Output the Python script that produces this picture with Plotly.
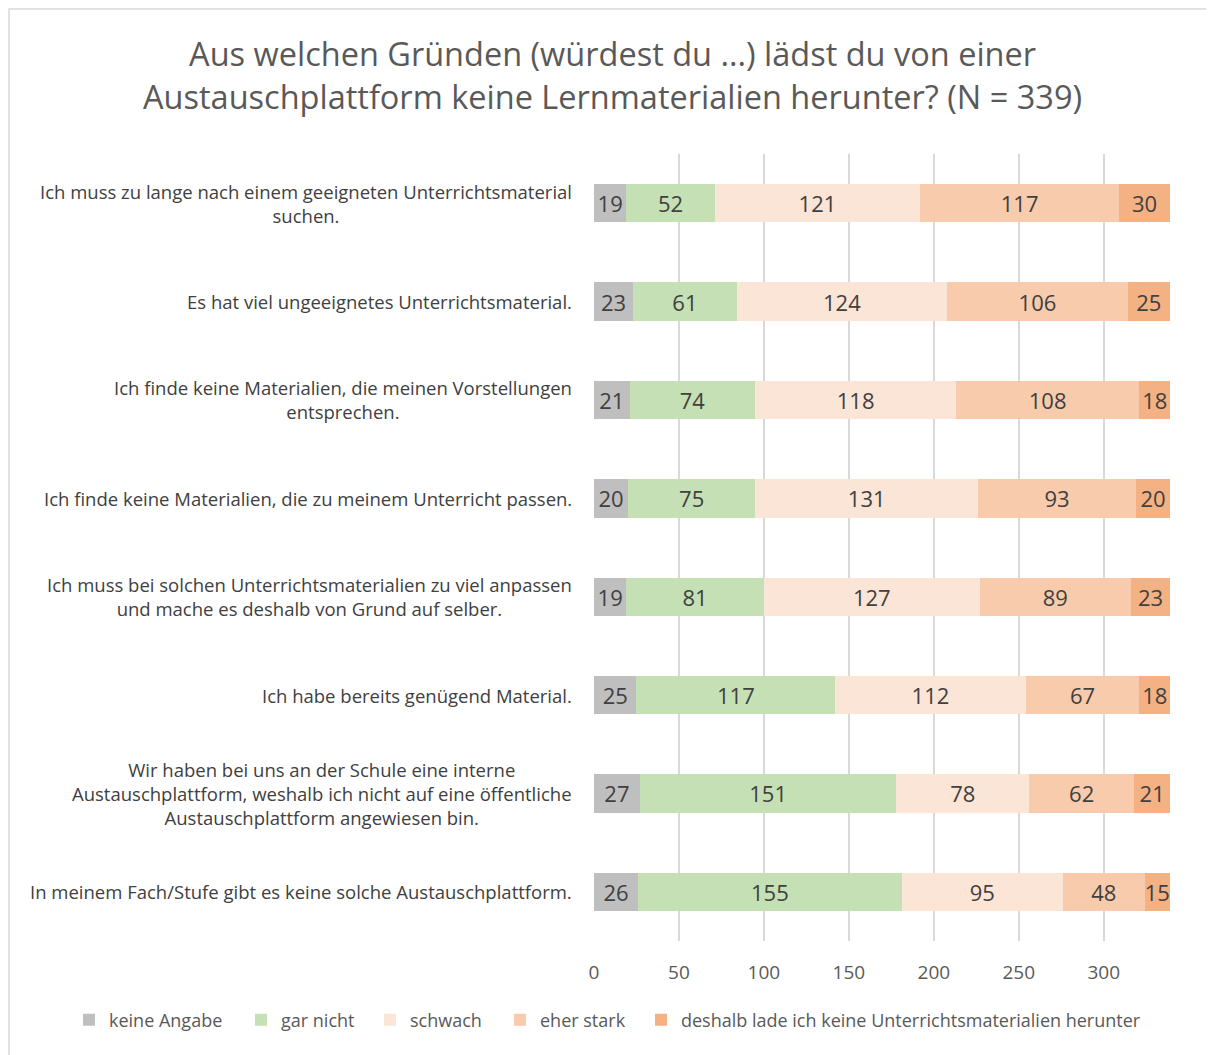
import plotly.graph_objects as go

categories = [
    "Ich muss zu lange nach einem geeigneten Unterrichtsmaterial<br>suchen.",
    "Es hat viel ungeeignetes Unterrichtsmaterial.",
    "Ich finde keine Materialien, die meinen Vorstellungen<br>entsprechen.",
    "Ich finde keine Materialien, die zu meinem Unterricht passen.",
    "Ich muss bei solchen Unterrichtsmaterialien zu viel anpassen<br>und mache es deshalb von Grund auf selber.",
    "Ich habe bereits genügend Material.",
    "Wir haben bei uns an der Schule eine interne<br>Austauschplattform, weshalb ich nicht auf eine öffentliche<br>Austauschplattform angewiesen bin.",
    "In meinem Fach/Stufe gibt es keine solche Austauschplattform.",
]

series_names = ["keine Angabe", "gar nicht", "schwach", "eher stark",
                "deshalb lade ich keine Unterrichtsmaterialien herunter"]
keine_angabe = [19, 23, 21, 20, 19, 25, 27, 26]
gar_nicht = [52, 61, 74, 75, 81, 117, 151, 155]
schwach = [121, 124, 118, 131, 127, 112, 78, 95]
eher_stark = [117, 106, 108, 93, 89, 67, 62, 48]
deshalb = [30, 25, 18, 20, 23, 18, 21, 15]
colors = ["#BFBFBF", "#C5E0B4", "#FBE5D6", "#F8CBAD", "#F4B183"]

FONT = "Open Sans"
W, H = 1214, 1055
L, R, T, B = 586, 52, 146, 122
PW, PH = W - L - R, H - T - B

# legend text start positions (figure px)
legend_text_x = [101, 273, 402, 532, 673]
legend_ids = ["legend", "legend2", "legend3", "legend4", "legend5"]

fig = go.Figure()
for name, vals, col, lid in zip(series_names,
                                [keine_angabe, gar_nicht, schwach, eher_stark, deshalb],
                                colors, legend_ids):
    fig.add_trace(go.Bar(
        y=categories, x=vals, name=name, orientation="h",
        marker=dict(color=col, line=dict(width=0)),
        text=vals, textposition="inside", insidetextanchor="middle",
        textfont=dict(size=22, color="#404040", family=FONT),
        constraintext="none", legend=lid, showlegend=True,
    ))

for c in categories:
    fig.add_annotation(xref="paper", yref="y", x=-0.035, y=c, text=c,
                       showarrow=False, xanchor="right", align="center",
                       font=dict(size=18.5, color="#404040", family=FONT))

fig.add_shape(type="rect", xref="paper", yref="paper",
              x0=(1 - L) / PW, x1=(W + 20 - L) / PW,
              y0=-(B + 20) / PH, y1=1 + (T - 1) / PH,
              line=dict(color="#D9D9D9", width=1.5), fillcolor="rgba(0,0,0,0)",
              layer="below")

legend_common = dict(orientation="h", xanchor="left", xref="container",
                     y=1 - 1012 / H, yanchor="middle", yref="container",
                     font=dict(size=18, color="#595959", family=FONT),
                     itemwidth=30, bgcolor="rgba(0,0,0,0)", visible=True)

layout_legends = {}
for lid, tx in zip(legend_ids, legend_text_x):
    layout_legends[lid] = dict(legend_common, x=(tx - 40) / W)

fig.update_layout(
    showlegend=True,
    barmode="stack",
    bargap=0.61,
    width=W, height=H,
    margin=dict(l=L, r=R, t=T, b=B, autoexpand=False),
    paper_bgcolor="white", plot_bgcolor="white",
    title=dict(text="Aus welchen Gründen (würdest du ...) lädst du von einer<br>Austauschplattform keine Lernmaterialien herunter? (N = 339)",
               x=0.498, xanchor="center", y=0.9446, yanchor="middle",
               font=dict(size=32.5, color="#595959", family=FONT)),
    xaxis=dict(range=[0, 339], tickvals=[0, 50, 100, 150, 200, 250, 300],
               showgrid=True, gridcolor="#D9D9D9", gridwidth=1.5, zeroline=False,
               showline=False, ticks="", ticklabelstandoff=18,
               tickfont=dict(size=19, color="#595959", family=FONT)),
    yaxis=dict(autorange="reversed", showticklabels=False, showgrid=False,
               ticks="", showline=False),
    **layout_legends,
)

fig.write_html("out.html")
